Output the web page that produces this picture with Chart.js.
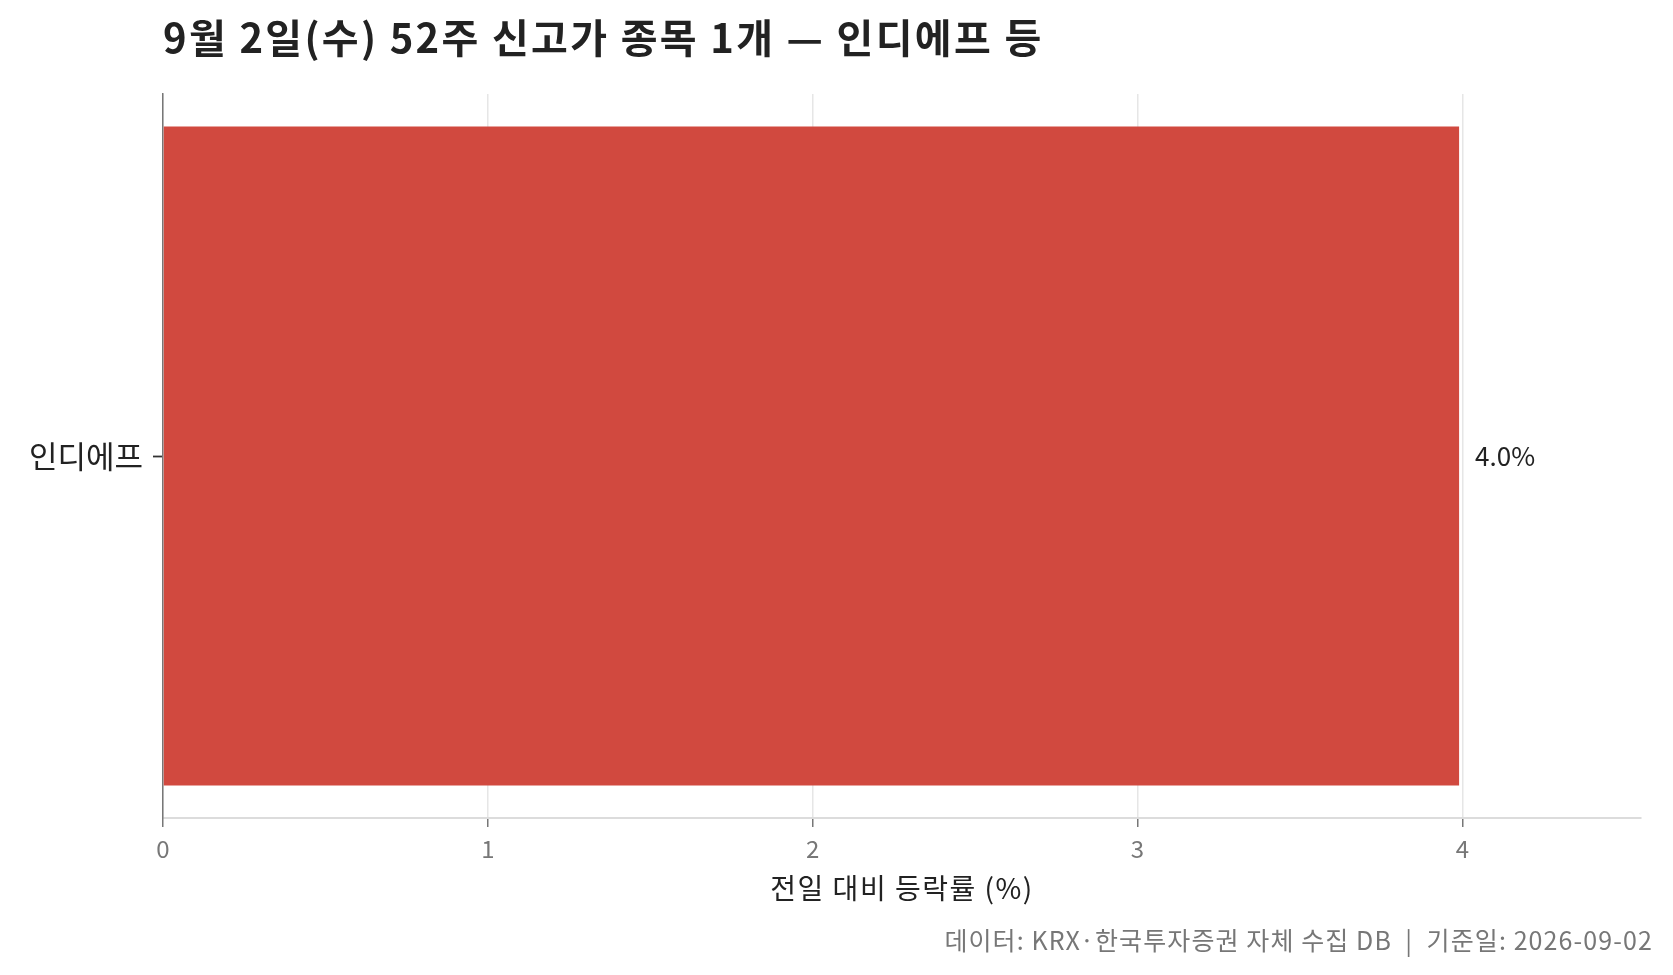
<!DOCTYPE html>
<html>
<head>
    <meta charset="utf-8">
    <title>52주 신고가 종목</title>
    <script src="https://cdn.jsdelivr.net/npm/chart.js"></script>
    <style>
        html, body { margin: 0; padding: 0; background: #fff; }
        #chart { display: block; }
    </style>
</head>
<body>
    <canvas id="chart" width="1673" height="975"></canvas>

    <script>
        // 데이터
        const stockNames = ['인디에프'];
        const changeRates = [3.99];
        const xTickValues = [0, 1, 2, 3, 4];

        const titleText = '9월 2일(수) 52주 신고가 종목 1개 — 인디에프 등';
        const xAxisTitle = '전일 대비 등락률 (%)';
        const footerText = '데이터: KRX·한국투자증권 자체 수집 DB  |  기준일: 2026-09-02';

        const FONT = "'Noto Sans CJK KR', 'Noto Sans', sans-serif";
        Chart.defaults.font.family = FONT;

        // 제목, x축 제목, 출처, 값 라벨 그리기
        const textPlugin = {
            id: 'texts',
            afterDatasetsDraw(chart) {
                const ctx = chart.ctx;
                const area = chart.chartArea;
                ctx.save();
                ctx.textBaseline = 'middle';

                ctx.fillStyle = '#222';
                ctx.font = 'bold 40px ' + FONT;
                ctx.letterSpacing = '2.3px';
                ctx.textAlign = 'left';
                ctx.fillText(titleText, area.left, 38);

                ctx.fillStyle = '#222';
                ctx.font = '28px ' + FONT;
                ctx.letterSpacing = '1.5px';
                ctx.textAlign = 'center';
                ctx.fillText(xAxisTitle, (area.left + area.right) / 2, 888);

                ctx.fillStyle = '#777';
                ctx.font = '25px ' + FONT;
                ctx.letterSpacing = '1.1px';
                ctx.textAlign = 'right';
                ctx.fillText(footerText, chart.width - 20, 940);

                const meta = chart.getDatasetMeta(0);
                ctx.fillStyle = '#222';
                ctx.font = '26px ' + FONT;
                ctx.letterSpacing = '0px';
                ctx.textAlign = 'left';
                meta.data.forEach((bar, i) => {
                    ctx.fillText(changeRates[i].toFixed(1) + '%', bar.x + 16, bar.y);
                });
                ctx.restore();
            }
        };

        const ctx = document.getElementById('chart').getContext('2d');
        const chart = new Chart(ctx, {
            type: 'bar',
            data: {
                labels: stockNames,
                datasets: [{
                    data: changeRates,
                    backgroundColor: '#d1493f',
                    borderWidth: 0,
                    barPercentage: 0.91,
                    categoryPercentage: 1.0
                }]
            },
            options: {
                indexAxis: 'y',
                responsive: false,
                animation: false,
                devicePixelRatio: 1,
                layout: {
                    padding: { top: 94, right: 32, bottom: 0, left: 0 }
                },
                plugins: {
                    legend: { display: false },
                    tooltip: { enabled: false }
                },
                scales: {
                    x: {
                        min: 0,
                        max: 4.55,
                        afterBuildTicks(scale) {
                            scale.ticks = xTickValues.map(v => ({ value: v }));
                        },
                        afterFit(scale) {
                            scale.height = 975 - 818;
                        },
                        ticks: {
                            color: '#777',
                            font: { size: 24 },
                            padding: 7
                        },
                        grid: {
                            color: '#e6e6e6',
                            lineWidth: 1.5,
                            tickColor: '#777',
                            tickWidth: 1.5,
                            tickLength: 9
                        },
                        border: { color: '#dcdcdc', width: 2 }
                    },
                    y: {
                        afterFit(scale) {
                            scale.width = 163;
                        },
                        ticks: {
                            color: '#222',
                            font: { size: 31 },
                            padding: 10
                        },
                        grid: {
                            offset: false,
                            drawOnChartArea: false,
                            tickColor: '#333',
                            tickWidth: 1.8,
                            tickLength: 10
                        },
                        border: { color: '#777', width: 1.5 }
                    }
                }
            },
            plugins: [textPlugin]
        });
    </script>
</body>
</html>
